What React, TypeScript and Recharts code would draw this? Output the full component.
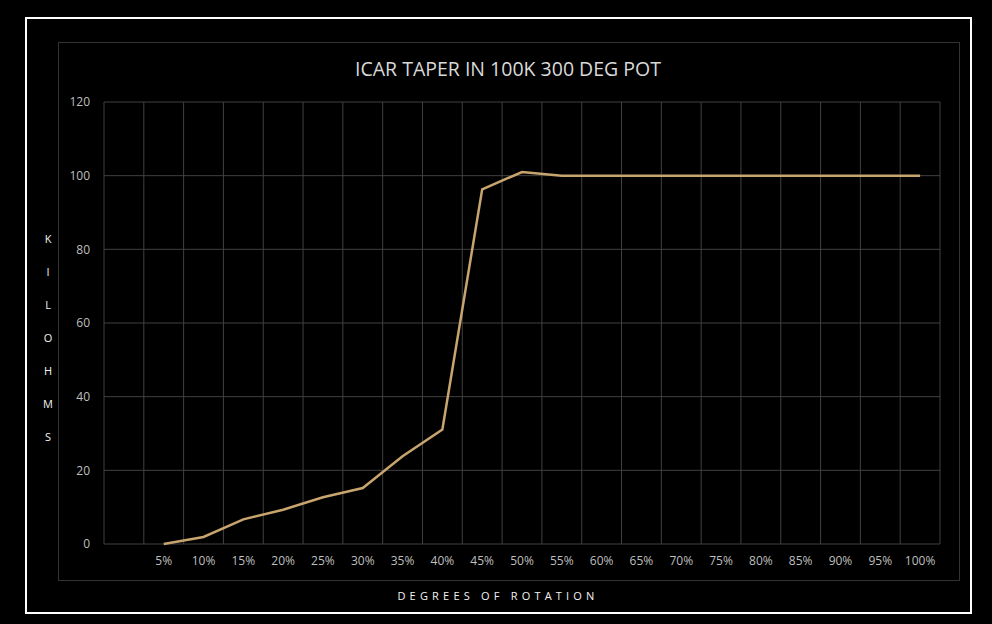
import { LineChart, Line, XAxis, YAxis, CartesianGrid } from "recharts";

// rotation categories (first slot in the chart is empty)
const rotation = [
  "5%", "10%", "15%", "20%", "25%", "30%", "35%", "40%", "45%", "50%",
  "55%", "60%", "65%", "70%", "75%", "80%", "85%", "90%", "95%", "100%",
];

// resistance in kilohms
const kilohms = [
  0, 1.9, 6.7, 9.3, 12.7, 15.2, 23.8, 31.1, 96.3, 101,
  100, 100, 100, 100, 100, 100, 100, 100, 100, 100,
];

const yTicks = [0, 20, 40, 60, 80, 100, 120];

const slots = rotation.length + 1;
const data = rotation.map((label, i) => ({ label, pos: i + 1.5, kilohms: kilohms[i] }));
const centerTicks = data.map((d) => d.pos);
const gridTicks = Array.from({ length: slots + 1 }, (_, i) => i);

const yLabel = "KILOHMS".split("");

export default function App() {
  return (
    <div
      style={{
        position: "absolute",
        left: 0,
        top: 0,
        width: 992,
        height: 624,
        background: "#000",
        fontFamily: "'Open Sans', sans-serif",
        overflow: "hidden",
      }}
    >
      <div style={{ position: "absolute", left: 25, top: 17, width: 943, height: 593, border: "2px solid #fff" }} />
      <div style={{ position: "absolute", left: 58, top: 42, width: 900, height: 537, border: "1px solid #333" }} />
      <div
        style={{
          position: "absolute",
          left: 0,
          width: 992,
          top: 55,
          textAlign: "center",
          color: "#d9d9d9",
          fontSize: 19.5,
          paddingLeft: 24,
          boxSizing: "border-box",
        }}
      >
        ICAR TAPER IN 100K 300 DEG POT
      </div>
      <LineChart
        width={992}
        height={624}
        data={data}
        margin={{ top: 102, right: 52, left: 54, bottom: 50 }}
        style={{ position: "absolute", left: 0, top: 0 }}
      >
        <CartesianGrid xAxisId="grid" stroke="#404040" strokeWidth={1} />
        <XAxis
          xAxisId="grid"
          type="number"
          dataKey="pos"
          domain={[0, slots]}
          ticks={gridTicks}
          interval={0}
          allowDataOverflow
          height={0}
          hide
        />
        <XAxis
          xAxisId="pos"
          type="number"
          dataKey="pos"
          domain={[0, slots]}
          ticks={centerTicks}
          interval={0}
          allowDataOverflow
          tickFormatter={(v: number) => rotation[Math.round(v - 1.5)] ?? ""}
          axisLine={false}
          tickLine={false}
          tickSize={0}
          tickMargin={12}
          height={30}
          tick={{ fill: "#bfbfbf", fontSize: 12 }}
        />
        <YAxis
          domain={[0, 120]}
          ticks={yTicks}
          interval={0}
          axisLine={false}
          tickLine={false}
          tickSize={0}
          tickMargin={14}
          width={50}
          tick={{ fill: "#bfbfbf", fontSize: 12 }}
        />
        <Line
          xAxisId="pos"
          type="linear"
          dataKey="kilohms"
          stroke="#c8a46e"
          strokeWidth={2.5}
          dot={false}
          isAnimationActive={false}
        />
      </LineChart>
      {yLabel.map((ch, i) => (
        <div
          key={i}
          style={{
            position: "absolute",
            left: 38,
            width: 20,
            top: 231 + i * 33,
            textAlign: "center",
            color: "#f2f2f2",
            fontSize: 11,
          }}
        >
          {ch}
        </div>
      ))}
      <div
        style={{
          position: "absolute",
          left: 0,
          width: 992,
          top: 588,
          textAlign: "center",
          color: "#f2f2f2",
          fontSize: 11,
          letterSpacing: 4.2,
          paddingLeft: 4,
          boxSizing: "border-box",
        }}
      >
        DEGREES OF ROTATION
      </div>
    </div>
  );
}
